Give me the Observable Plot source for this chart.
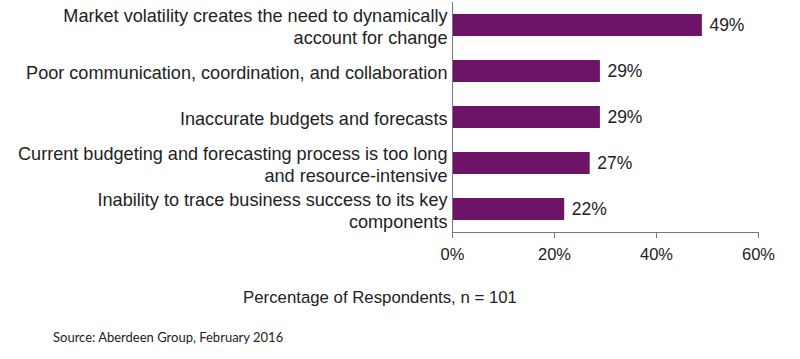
<!DOCTYPE html>
<html>
<head>
<meta charset="utf-8">
<script src="https://cdn.jsdelivr.net/npm/d3@7"></script>
<script src="https://cdn.jsdelivr.net/npm/@observablehq/plot@0.6"></script>
<style>
  body { margin: 0; background: #fff; font-family: "Liberation Sans", Arial, sans-serif; }
  #wrap { width: 800px; }
  #chart svg { display: block; }
  #xtitle { margin-top: 18px; width: 760px; text-align: center; font-size: 16.8px; line-height: 20px; color: #222; }
  #source { margin-top: 21px; margin-left: 53px; font-family: Lato, "Open Sans", sans-serif; font-size: 13px; line-height: 16px; color: #222; }
</style>
</head>
<body>
<div id="wrap">
  <div id="chart"></div>
  <div id="xtitle">Percentage of Respondents, n = 101</div>
  <div id="source">Source: Aberdeen Group, February 2016</div>
</div>
<script>
const categories = [
  "Market volatility creates the need to dynamically\naccount for change",
  "Poor communication, coordination, and collaboration",
  "Inaccurate budgets and forecasts",
  "Current budgeting and forecasting process is too long\nand resource-intensive",
  "Inability to trace business success to its key\ncomponents"
];
const values = [49, 29, 29, 27, 22];
const xTicks = [0, 20, 40, 60];

const data = categories.map((c, i) => ({category: c, value: values[i]}));

const chart = Plot.plot({
  width: 800,
  height: 270,
  marginLeft: 452,
  marginRight: 42,
  marginTop: 2,
  marginBottom: 38,
  style: {fontFamily: "'Liberation Sans', Arial, sans-serif", fontSize: "16px", color: "#222", background: "#fff"},
  x: {domain: [0, 60], label: null},
  y: {domain: categories, paddingInner: 0.52, paddingOuter: 0.26, label: null},
  marks: [
    Plot.barX(data, {x: "value", y: "category", fill: "#6d1468"}),
    Plot.text(data, {x: "value", y: "category", text: d => d.value + "%", textAnchor: "start", dx: 7, fill: "#222", fontSize: 17.5}),
    Plot.text(data, {x: 0, y: "category", text: "category", textAnchor: "end", dx: -5, lineHeight: 1.22, fill: "#222", fontSize: 18.1}),
    Plot.frame({anchor: "left", stroke: "#777"}),
    Plot.frame({anchor: "bottom", stroke: "#777"}),
    Plot.axisX({ticks: xTicks, tickFormat: d => d + "%", tickSize: 6, tickPadding: 10, stroke: "#777", fill: "#222", fontSize: 16.5, label: null}),
    Plot.axisY({ticks: [], label: null})
  ]
});
document.getElementById("chart").appendChild(chart);
</script>
</body>
</html>
